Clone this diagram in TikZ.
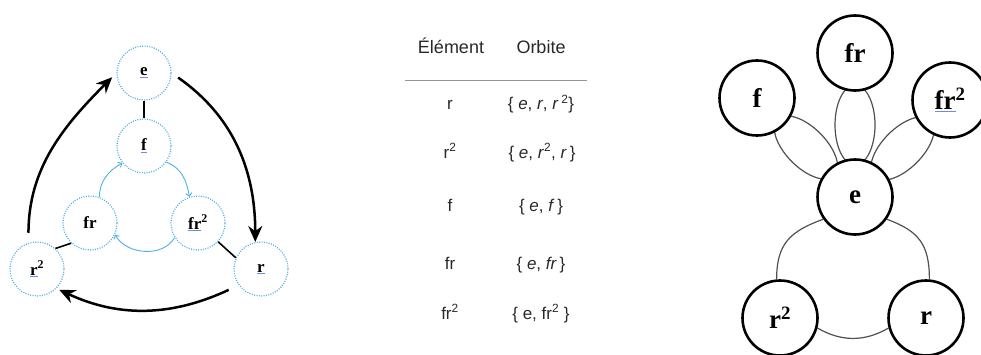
\documentclass[tikz,border=0pt]{standalone}
\usepackage{fontspec}
\setmainfont{Liberation Serif}
\setsansfont{Liberation Sans}
\usetikzlibrary{arrows.meta,shapes.geometric,calc}
\definecolor{cblue}{RGB}{80,175,225}
\definecolor{ulblue}{RGB}{110,140,220}
\definecolor{lgray}{RGB}{80,80,80}
\definecolor{rulegray}{RGB}{150,150,150}
\definecolor{tabtext}{RGB}{40,40,40}
\newcommand\ulb[1]{\textcolor{ulblue}{\underline{\textcolor{black}{#1}}}}
\pgfdeclarelayer{bg}
\pgfsetlayers{bg,main}
\begin{document}
\begin{tikzpicture}[x=1pt,y=1pt,
  dnode/.style={circle,draw=cblue,line width=1.2pt,dash pattern=on 1pt off 1.4pt,
    minimum size=54pt,inner sep=0pt,fill=white,font=\bfseries\fontsize{17}{20}\selectfont},
  bnode/.style={circle,draw=black,line width=2.6pt,minimum size=75pt,inner sep=0pt,
    fill=white,font=\bfseries\fontsize{27}{30}\selectfont},
  bigarrow/.style={line width=2.5pt,-{Stealth[length=16pt,width=14pt]}},
  smallarrow/.style={draw=cblue,line width=0.9pt,-{Straight Barb[length=3pt,width=6pt]}},
  link/.style={line width=1.6pt},
  orb/.style={draw=lgray,line width=1.2pt},
  orbell/.style={ellipse,draw=lgray,line width=1.2pt,minimum width=80pt,minimum height=40pt,inner sep=0pt},
  tab/.style={font=\sffamily\fontsize{17}{20}\selectfont,text=tabtext,anchor=base},
  tabh/.style={font=\sffamily\fontsize{18}{20}\selectfont,text=tabtext,anchor=base}
]
\useasboundingbox (0,0) rectangle (981,354);

% ---------- left diagram ----------
\node[dnode] (Le)   at (144,281) {\ulb{e}};
\node[dnode] (Lf)   at (144,208) {\ulb{f}};
\node[dnode] (Lfr)  at (90,131)  {fr};
\node[dnode] (Lfr2) at (198,131) {\ulb{fr}\textsuperscript{2}};
\node[dnode] (Lr2)  at (37,85)   {\ulb{r}\textsuperscript{2}};
\node[dnode] (Lr)   at (261,85)  {\ulb{r}};

\draw[link] (Le) -- (Lf);
\draw[link] (Lfr.227) -- (Lr2.48);
\draw[link] (Lfr2.-43) -- (Lr.156);

\draw[bigarrow,shorten <=8pt] (Le.east) to[out=-35,in=90] (Lr.102);
\draw[bigarrow,shorten <=11pt,shorten >=3pt] (Lr.216) to[out=205,in=-25] (Lr2.-45);
\draw[bigarrow,shorten <=10pt,shorten >=6pt] (Lr2.108) to[out=90,in=-135] (Le.west);

\draw[smallarrow] (Lf.-36) to[out=-20,in=100] (Lfr2.108);
\draw[smallarrow] (Lfr2.212) to[out=-120,in=-60] (Lfr.-25);
\draw[smallarrow] (Lfr.70) to[out=90,in=210] (Lf.218);

% ---------- table ----------
\node[tabh] (h1) at (451,300) {Élément};
\node[tabh] (h2) at (541,300) {Orbite};
\draw[draw=rulegray,line width=1.2pt] (405,273.3) -- (587,273.3);

\node[tab] (e1) at (450,244) {r};
\node[tab] (o1) at (541,244) {\{ \textit{e}, \textit{r}, \textit{r}\,\textsuperscript{2}\}};
\node[tab] (e2) at (450,196) {r\textsuperscript{2}};
\node[tab] (o2) at (542,196) {\{ \textit{e}, \textit{r}\textsuperscript{2}, \textit{r}\,\}};
\node[tab] (e3) at (450,143) {f};
\node[tab] (o3) at (541,143) {\{ \textit{e}, \textit{f}\,\}};
\node[tab] (e4) at (450,85)  {fr};
\node[tab] (o4) at (541,85)  {\{ \textit{e}, \textit{fr}\,\}};
\node[tab] (e5) at (450,35)  {fr\textsuperscript{2}};
\node[tab] (o5) at (541,35)  {\{ e, fr\textsuperscript{2} \}};

% ---------- right diagram ----------
\node[bnode] (Rfr)  at (855,301) {fr};
\node[bnode] (Rf)   at (757,256) {f};
\node[bnode] (Rfr2) at (950,254) {\ulb{fr}\textsuperscript{2}};
\node[bnode] (Re)   at (855,157) {e};
\node[bnode] (Rr2)  at (780,36)  {r\textsuperscript{2}};
\node[bnode] (Rr)   at (926,36)  {r};

\begin{pgfonlayer}{bg}
\node[orbell,rotate=-45] (ofe)   at ($(Rf)!0.5!(Re)$) {};
\node[orbell,rotate=90]  (ofre)  at ($(Rfr)!0.5!(Re)$) {};
\node[orbell,rotate=45]  (ofr2e) at ($(Rfr2)!0.5!(Re)$) {};
\draw[orb] (Re.215) to[out=200,in=90,looseness=1.2] (Rr2.95);
\draw[orb] (Re.-35) to[out=-20,in=90,looseness=1.2] (Rr.85);
\draw[orb] (Rr2.-15) to[out=-30,in=210] (Rr.195);
\end{pgfonlayer}
\end{tikzpicture}
\end{document}
